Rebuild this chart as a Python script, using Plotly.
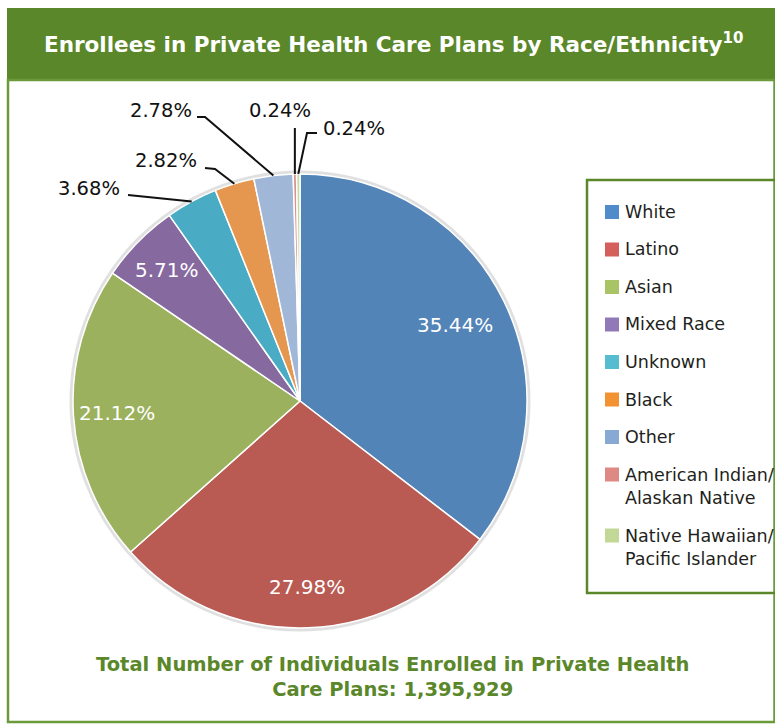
import math
import plotly.graph_objects as go

# --- data -------------------------------------------------------------
groups = ["White", "Latino", "Asian", "Mixed Race", "Unknown", "Black",
          "Other", "American Indian/ Alaskan Native",
          "Native Hawaiian/ Pacific Islander"]
legend_labels = ["White", "Latino", "Asian", "Mixed Race", "Unknown", "Black",
                 "Other", "American Indian/<br>Alaskan Native",
                 "Native Hawaiian/<br>Pacific Islander"]
shares = [35.44, 27.98, 21.12, 5.71, 3.68, 2.82, 2.78, 0.24, 0.24]
total_enrolled = 1395929

slice_colors = ["#5384b8", "#b95a53", "#9bb15d", "#86699f", "#4aabc4",
                "#e5964f", "#a1b7d8", "#d9928e", "#c6d9a1"]
legend_colors = ["#4f8cc9", "#d4605c", "#a9c466", "#9079b6", "#56bcd0",
                 "#f29232", "#87a9d4", "#dd8a85", "#c2d896"]

# --- page geometry (pixels) -------------------------------------------
W, H = 775, 724
CX, CY, R = 300, 401, 227
GREEN = "#5a8729"
DARK = "#231f20"
FONT = "DejaVu Sans"


def px(x, y):
    return x / W, 1 - y / H


# label placement: inside labels by radius fraction, outside ones by anchor
inside_radius = {0: 0.76, 1: 0.82, 2: 0.81, 3: 0.82}
outside_layout = {
    4: dict(text=(89, 188), path=[(128, 195)]),
    5: dict(text=(166, 161), path=[(205, 168), (215, 169)]),
    6: dict(text=(161, 111), path=[(197, 117), (205, 117)]),
    7: dict(text=(280, 111), path=["vertical", 128]),
    8: dict(text=(354, 128), path=[(317, 133), (307, 133)]),
}

total = sum(shares)
mid_angles = []
acc = 0.0
for v in shares:
    mid_angles.append((acc + v / 2) / total * 2 * math.pi)
    acc += v


def on_pie(i, frac):
    a = mid_angles[i]
    return CX + frac * R * math.sin(a), CY - frac * R * math.cos(a)


def label(x, y, text, font, xanchor="center", yanchor="middle", align="center"):
    ax, ay = px(x, y)
    return dict(x=ax, y=ay, xref="paper", yref="paper", text=text,
                showarrow=False, xanchor=xanchor, yanchor=yanchor,
                align=align, font=font)


fig = go.Figure()

x0, y1 = px(CX - R, CY - R)
x1, y0 = px(CX + R, CY + R)
fig.add_trace(go.Pie(
    labels=groups,
    values=shares,
    sort=False,
    direction="clockwise",
    rotation=0,
    marker=dict(colors=slice_colors, line=dict(color="white", width=1.5)),
    textinfo="none",
    hoverinfo="label+percent",
    showlegend=False,
    domain=dict(x=[x0, x1], y=[y0, y1]),
))

shapes = []
annotations = []

# frame: header bar and bordered panel
hx0, hy0 = px(7, 8)
hx1, hy1 = px(790, 80)
shapes.append(dict(type="rect", xref="paper", yref="paper",
                   x0=hx0, y0=hy1, x1=hx1, y1=hy0,
                   fillcolor=GREEN, line=dict(width=0), layer="below"))
bx0, by0 = px(8, 80)
bx1, by1 = px(774.5, 722)
shapes.append(dict(type="rect", xref="paper", yref="paper",
                   x0=bx0, y0=by1, x1=bx1, y1=by0,
                   line=dict(color="#6a9a3a", width=2.5), layer="below"))

# soft rim around the pie
rx0, ry1 = px(CX - R - 1.5, CY - R - 1.5)
rx1, ry0 = px(CX + R + 1.5, CY + R + 1.5)
shapes.append(dict(type="circle", xref="paper", yref="paper",
                   x0=rx0, y0=ry0, x1=rx1, y1=ry1,
                   line=dict(color="rgba(0,0,0,0.12)", width=4), layer="below"))

# inside percentage labels
for i, frac in inside_radius.items():
    lx, ly = on_pie(i, frac)
    annotations.append(label(lx, ly, f"{shares[i]:.2f}%",
                             dict(family=FONT, size=20, color="white")))

# outside labels with leader lines to the slice edge
for i, spec in outside_layout.items():
    tx, ty = spec["text"]
    annotations.append(label(tx, ty, f"{shares[i]:.2f}%",
                             dict(family=FONT, size=19.5, color="#111111")))
    ex, ey = on_pie(i, 1.0)
    if spec["path"][0] == "vertical":
        pts = [(ex, spec["path"][1]), (ex, ey)]
    else:
        pts = list(spec["path"]) + [(ex, ey)]
    d = ""
    for k, (qx, qy) in enumerate(pts):
        sx, sy = px(qx, qy)
        d += ("M" if k == 0 else "L") + f"{sx:.5f},{sy:.5f} "
    shapes.append(dict(type="path", xref="paper", yref="paper", path=d,
                       line=dict(color="#111111", width=2)))

# legend panel
lx0, ly0 = px(587, 180)
lx1, ly1 = px(820, 593)
shapes.append(dict(type="rect", xref="paper", yref="paper",
                   x0=lx0, y0=ly1, x1=lx1, y1=ly0,
                   line=dict(color=GREEN, width=2.5)))
row_y = 212.0
for i, (name, col) in enumerate(zip(legend_labels, legend_colors)):
    sx0, sy0 = px(605, row_y - 7)
    sx1, sy1 = px(619, row_y + 7)
    shapes.append(dict(type="rect", xref="paper", yref="paper",
                       x0=sx0, y0=sy1, x1=sx1, y1=sy0,
                       fillcolor=col, line=dict(width=0)))
    annotations.append(label(623, row_y - 12, name,
                             dict(family=FONT, size=17.5, color=DARK),
                             xanchor="left", yanchor="top", align="left"))
    row_y += 37.5 + (23.5 if "<br>" in name else 0)

# title and footer
annotations.append(label(393, 43,
                         "Enrollees in Private Health Care Plans by Race/Ethnicity<sup>10</sup>",
                         dict(family=FONT, size=21.5, color="white", weight="bold")))
annotations.append(label(392, 677,
                         "Total Number of Individuals Enrolled in Private Health<br>"
                         f"Care Plans: {total_enrolled:,}",
                         dict(family=FONT, size=19.5, color=GREEN, weight="bold")))

fig.update_layout(
    width=W, height=H,
    margin=dict(l=0, r=0, t=0, b=0),
    paper_bgcolor="white",
    plot_bgcolor="white",
    shapes=shapes,
    annotations=annotations,
)

fig.write_html("out.html")
